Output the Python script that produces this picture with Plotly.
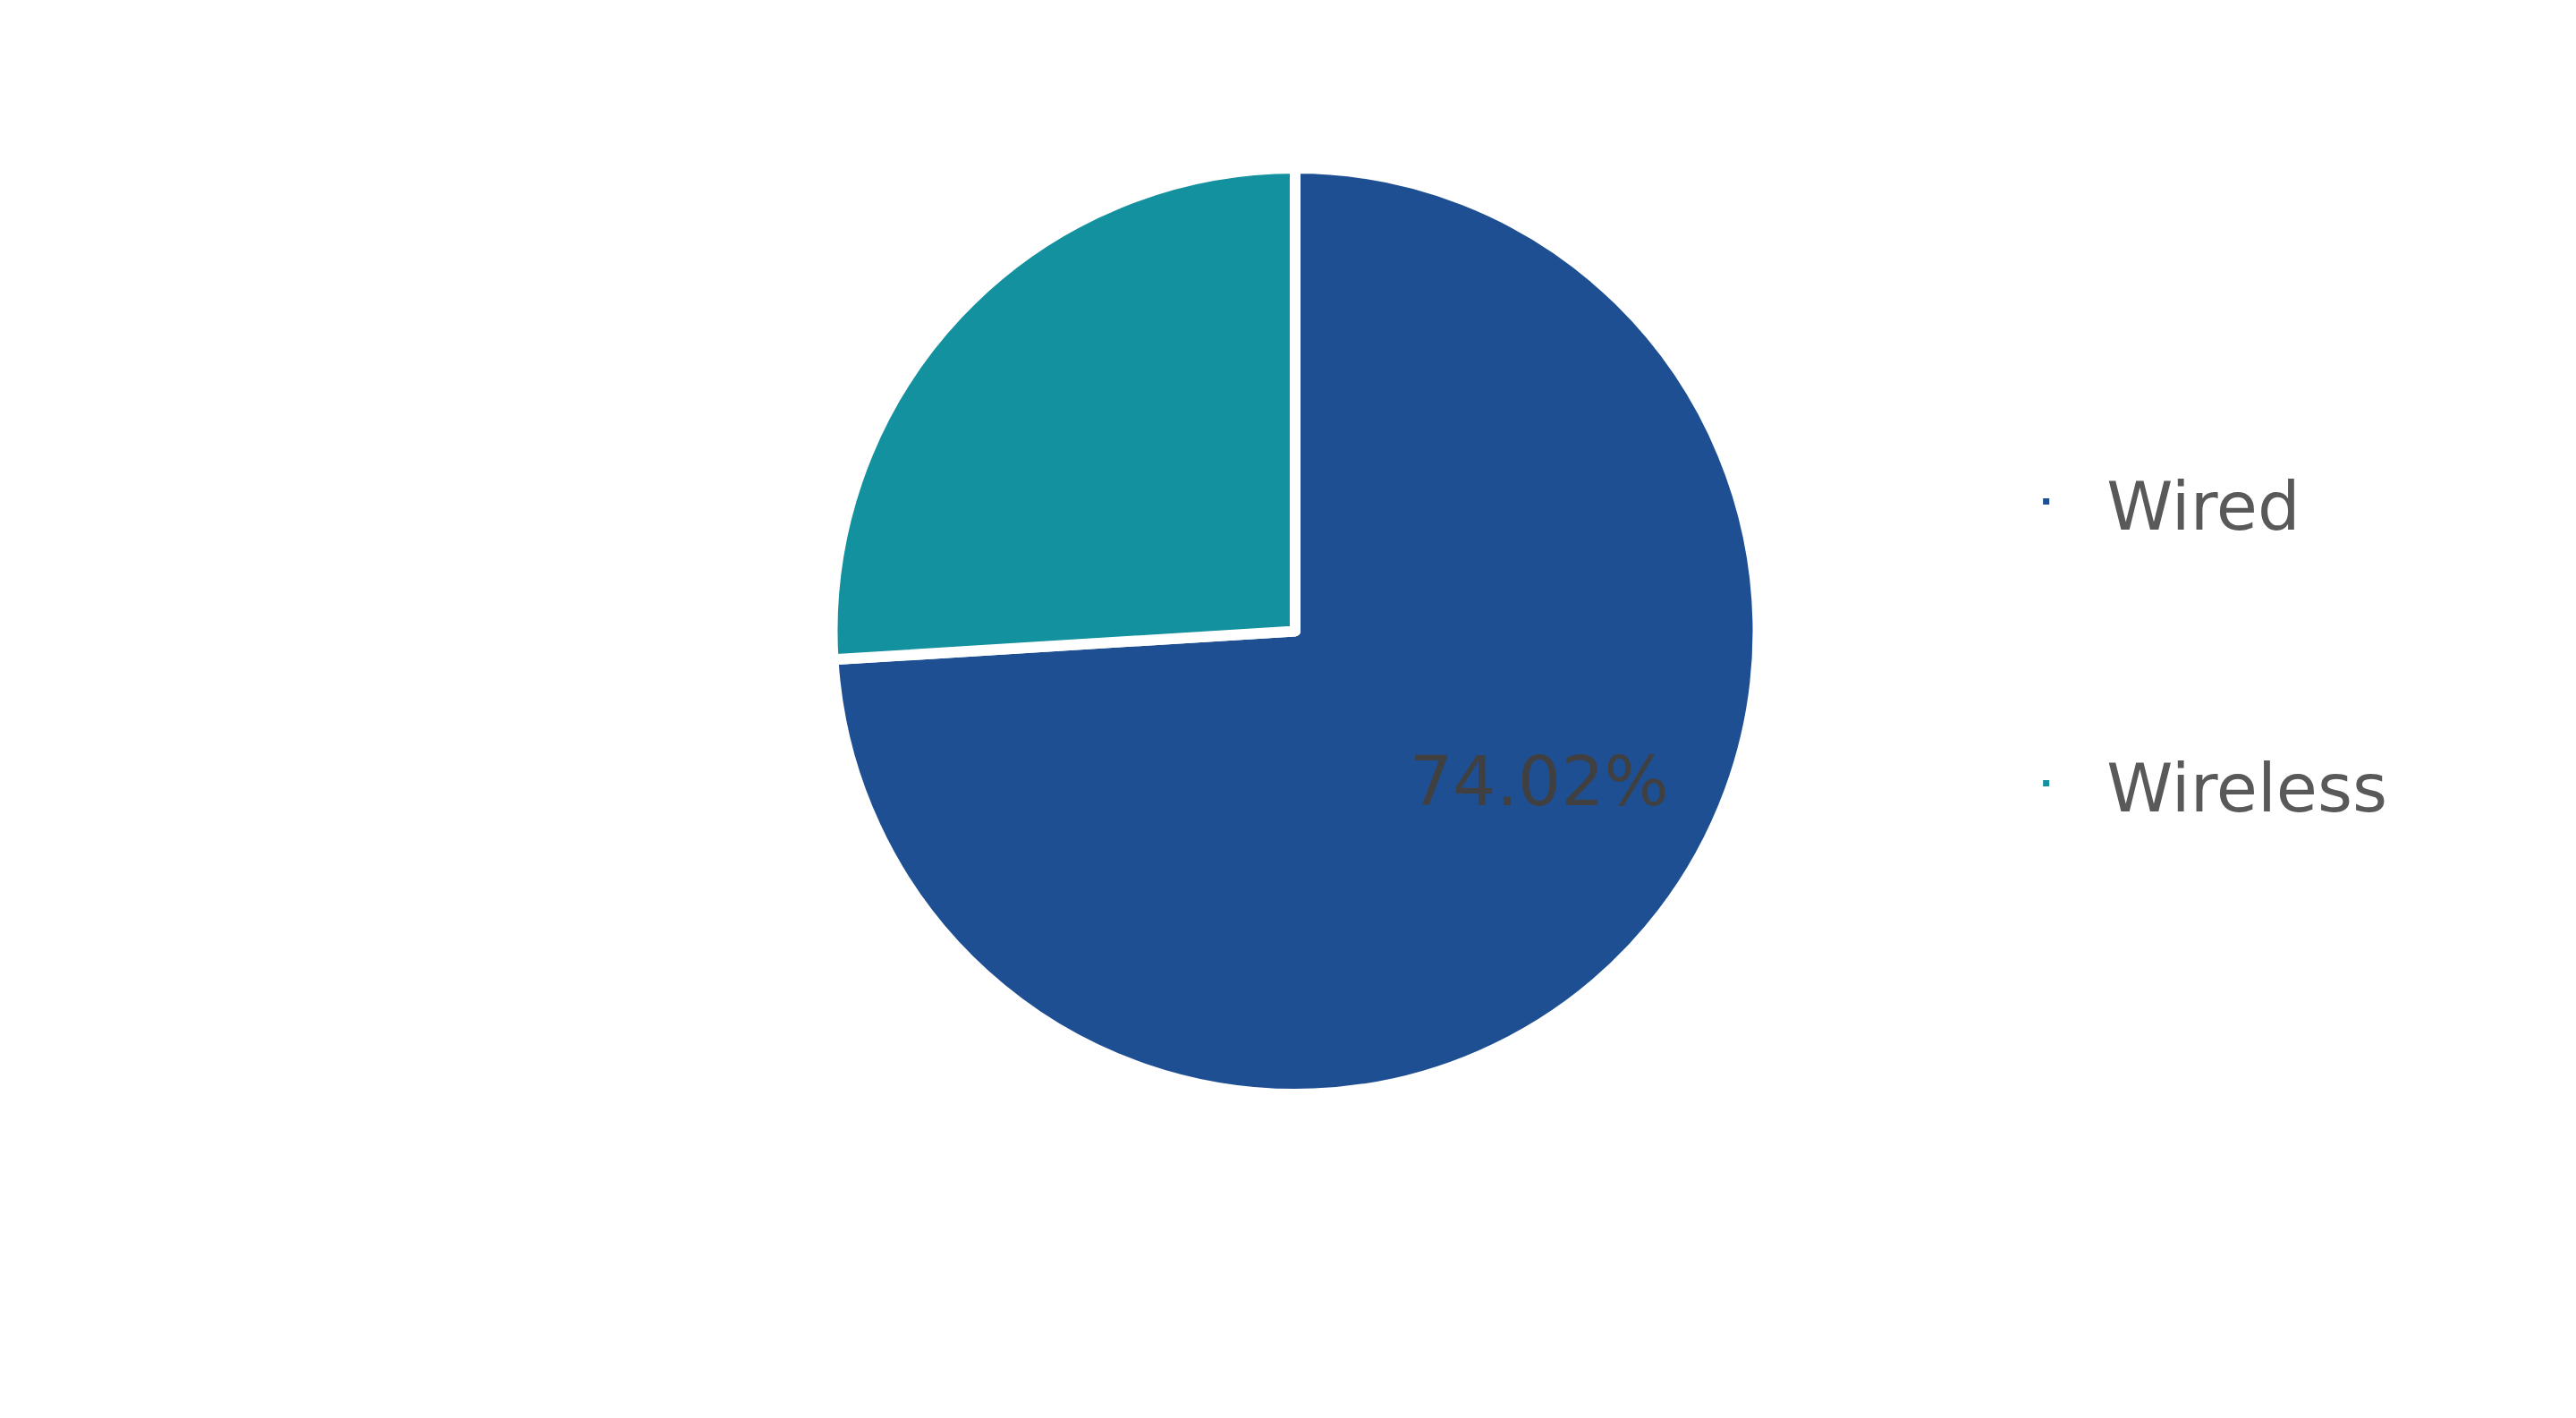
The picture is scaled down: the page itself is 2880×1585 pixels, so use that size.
import plotly.graph_objects as go

# ---- data ----
categories = ["Wired", "Wireless"]
shares = [74.02, 25.98]
slice_text = ["74.02%", ""]
colors = ["#1F4F93", "#13919F"]

legend_labels = [
    " <br><span style='font-size:75px'>\u00a0\u00a0" + c + "</span><br> "
    for c in categories
]

fig = go.Figure(
    go.Pie(
        labels=legend_labels,
        values=shares,
        textinfo="none",
        sort=False,
        direction="clockwise",
        rotation=0,
        marker=dict(colors=colors, line=dict(color="#FFFFFF", width=12)),
        hovertemplate="%{customdata}: %{value}%<extra></extra>",
        customdata=categories,
        domain=dict(x=[0, 1], y=[0, 1]),
    )
)

# in-slice percentage label (only the Wired slice carries one)
fig.add_annotation(
    text=slice_text[0],
    xref="paper",
    yref="paper",
    x=0.6099,
    y=0.3375,
    xanchor="center",
    yanchor="middle",
    showarrow=False,
    font=dict(family="DejaVu Sans", size=76, color="#404040"),
)

fig.update_layout(
    width=2880,
    height=1585,
    margin=dict(l=200, r=200, t=180, b=370, autoexpand=False),
    paper_bgcolor="#FFFFFF",
    plot_bgcolor="#FFFFFF",
    showlegend=True,
    legend=dict(
        x=0.8305,
        xanchor="left",
        y=0.488,
        yanchor="middle",
        font=dict(family="DejaVu Sans", size=80, color="#595959"),
        valign="middle",
        bgcolor="rgba(0,0,0,0)",
    ),
)

fig.write_html("out.html")
